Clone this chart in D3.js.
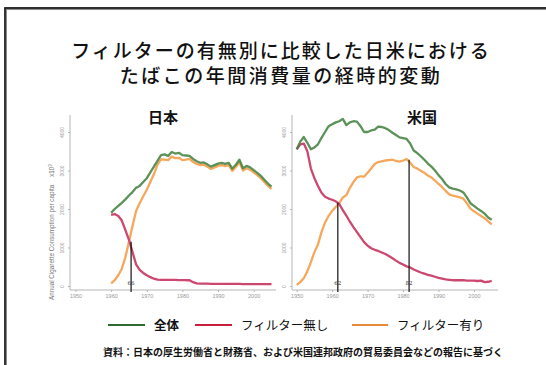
<!DOCTYPE html>
<meta charset="utf-8">
<title>filter cigarettes</title>
<body>
<script src="https://cdn.jsdelivr.net/npm/d3@7"></script>
<style>
html, body {
    margin: 0;
    background: #fff;
}
svg {
    display: block;
    font-family: "Noto Sans CJK JP", "Noto Sans", sans-serif;
}
</style>
<script>
// values (sticks per capita)
var jpYears = d3.range(1960, 2006),
    usYears = d3.range(1950, 2006);

var jpTotal = [1900, 2000, 2080, 2160, 2250, 2350, 2440, 2550, 2600, 2700,
    2800, 2950, 3100, 3250, 3400, 3420, 3380, 3480, 3440, 3460,
    3400, 3390, 3380, 3300, 3240, 3200, 3210, 3160, 3100, 3140,
    3180, 3200, 3170, 3200, 3050, 3150, 3280, 3060, 3120, 3080,
    3010, 2940, 2860, 2760, 2660, 2580];
var jpNoFilter = [1850, 1870, 1820, 1700, 1450, 1200, 880, 560, 420, 340,
    280, 230, 190, 165, 160, 160, 160, 160, 160, 155,
    155, 150, 150, 100, 70, 60, 60, 60, 55, 55,
    55, 55, 55, 55, 55, 55, 55, 50, 50, 50,
    50, 50, 50, 50, 50, 50];
var jpFilter = [70, 150, 280, 450, 750, 1150, 1560, 1950, 2150, 2330,
    2500, 2700, 2900, 3150, 3290, 3280, 3270, 3360, 3320, 3330,
    3270, 3280, 3300, 3220, 3170, 3140, 3150, 3100, 3040, 3080,
    3120, 3140, 3110, 3140, 2990, 3090, 3220, 3000, 3060, 3020,
    2950, 2880, 2800, 2700, 2600, 2520];

var usTotal = [3550, 3750, 3870, 3720, 3550, 3600, 3680, 3850, 4000, 4150,
    4200, 4250, 4280, 4340, 4180, 4250, 4280, 4270, 4150, 4000,
    4000, 4040, 4060, 4140, 4130, 4100, 4050, 3980, 3920, 3860,
    3840, 3820, 3700, 3520, 3450, 3370, 3280, 3180, 3100, 3000,
    2880, 2780, 2650, 2560, 2530, 2510, 2480, 2430, 2300, 2150,
    2080, 2010, 1950, 1880, 1780, 1720];
var usNoFilter = [3550, 3680, 3700, 3500, 3050, 2800, 2600, 2420, 2320, 2270,
    2240, 2200, 2130, 1970, 1830, 1670, 1530, 1400, 1270, 1140,
    1050, 980, 940, 910, 870, 830, 780, 720, 660, 600,
    560, 510, 480, 430, 390, 350, 320, 290, 270, 240,
    210, 190, 170, 160, 150, 150, 150, 150, 140, 140,
    140, 130, 140, 100, 110, 130];
var usFilter = [30, 100, 200, 380, 620, 880, 1080, 1400, 1650, 1820,
    1950, 2050, 2150, 2300, 2360, 2550, 2700, 2820, 2850, 2840,
    2940, 3050, 3170, 3220, 3240, 3260, 3270, 3280, 3250, 3230,
    3260, 3300, 3200, 3090, 3050, 2990, 2940, 2870, 2820, 2740,
    2650, 2570, 2470, 2380, 2350, 2330, 2300, 2270, 2150, 2010,
    1940, 1880, 1820, 1760, 1680, 1600];

var xTicks = [1950, 1960, 1970, 1980, 1990, 2000],
    yTicks = [0, 1000, 2000, 3000, 4000];

var jpMarks = [{label: "66", year: 1965.6, value: 1150}],
    usMarks = [{label: "62", year: 1961.6, value: 2160},
               {label: "82", year: 1981.7, value: 3280}];

var seriesNames = ["全体", "フィルター無し", "フィルター有り"],
    titleLines = ["フィルターの有無別に比較した日米における", "たばこの年間消費量の経時的変動"],
    source = "資料：日本の厚生労働省と財務省、および米国連邦政府の貿易委員会などの報告に基づく";

var colors = {total: "#3f7f3d", none: "#cc4870", filter: "#f5a85c"},
    legendColors = ["#2f6b30", "#c81e3e", "#e98a36"];

var width = 546, height = 365;

var svg = d3.select("body").append("svg")
    .attr("width", width)
    .attr("height", height);

// frame
svg.append("path")
    .attr("d", "M5.5," + height + "V8.5H" + width)
    .attr("fill", "none")
    .attr("stroke", "#8a8a8a")
    .attr("stroke-width", 3);
svg.append("path")
    .attr("d", "M5," + height + "V8H" + width)
    .attr("fill", "none")
    .attr("stroke", "#111")
    .attr("stroke-width", 1.4);

svg.selectAll("text.title")
    .data(titleLines)
    .enter().append("text")
    .attr("class", "title")
    .attr("x", 281)
    .attr("y", function(d, i) { return 58 + i * 25; })
    .attr("text-anchor", "middle")
    .attr("font-size", 19)
    .attr("font-weight", 500)
    .attr("letter-spacing", function(d, i) { return i === 0 ? 2 : 2.5; })
    .attr("fill", "#111")
    .text(function(d) { return d; });

var y = d3.scaleLinear().domain([0, 4000]).range([286, 132]);

function panel(opts) {
    var g = svg.append("g");
    var x = d3.scaleLinear().domain([1950, 2005]).range(opts.xr);

    // axis lines
    g.append("path")
        .attr("d", "M" + opts.ax + ",115V290H" + opts.xEnd)
        .attr("fill", "none")
        .attr("stroke", "#b5b5b5")
        .attr("stroke-width", 1);

    var yAxis = g.append("g")
        .attr("transform", "translate(" + opts.ax + ",0)")
        .call(d3.axisLeft(y).tickValues(yTicks).tickFormat(d3.format("d")).tickSize(2));
    yAxis.select(".domain").remove();
    yAxis.selectAll("line").attr("stroke", "#b5b5b5");
    yAxis.selectAll("text")
        .attr("font-size", 5)
        .attr("fill", "#999")
        .attr("x", 0)
        .attr("y", 0)
        .attr("dy", 0)
        .attr("transform", "translate(-6,0) rotate(-90)")
        .attr("text-anchor", "middle");

    var xAxis = g.append("g")
        .attr("transform", "translate(0,290)")
        .call(d3.axisBottom(x).tickValues(xTicks).tickFormat(d3.format("d")).tickSize(2).tickPadding(2));
    xAxis.select(".domain").remove();
    xAxis.selectAll("line").attr("stroke", "#b5b5b5");
    xAxis.selectAll("text").attr("font-size", 5.5).attr("fill", "#999");

    var line = d3.line()
        .x(function(d) { return x(d[0]); })
        .y(function(d) { return y(d[1]); });

    function draw(vals, color, op) {
        g.append("path")
            .datum(opts.years.map(function(yr, i) { return [yr, vals[i]]; }))
            .attr("fill", "none")
            .attr("stroke", color)
            .attr("stroke-opacity", op)
            .attr("stroke-width", 2.3)
            .attr("stroke-linejoin", "round")
            .attr("d", line);
    }
    draw(opts.filter, colors.filter, 1);
    draw(opts.none, colors.none, 1);
    draw(opts.total, colors.total, 0.85);

    var m = g.selectAll("g.mark")
        .data(opts.marks)
        .enter().append("g")
        .attr("class", "mark");
    m.append("line")
        .attr("x1", function(d) { return x(d.year); })
        .attr("x2", function(d) { return x(d.year); })
        .attr("y1", function(d) { return y(d.value); })
        .attr("y2", 292)
        .attr("stroke", "#111")
        .attr("stroke-width", 1.2);
    m.append("text")
        .attr("x", function(d) { return x(d.year); })
        .attr("y", 285)
        .attr("text-anchor", "middle")
        .attr("font-size", 5.5)
        .attr("font-family", "DejaVu Serif, serif")
        .attr("fill", "#333")
        .text(function(d) { return d.label; });

    svg.append("text")
        .attr("x", opts.titleX)
        .attr("y", 123)
        .attr("text-anchor", "middle")
        .attr("font-size", 15)
        .attr("font-weight", "bold")
        .attr("fill", "#111")
        .text(opts.name);
}

panel({name: "日本", years: jpYears, total: jpTotal, none: jpNoFilter, filter: jpFilter,
    marks: jpMarks, xr: [75.5, 271.5], ax: 70, xEnd: 276, titleX: 163});
panel({name: "米国", years: usYears, total: usTotal, none: usNoFilter, filter: usFilter,
    marks: usMarks, xr: [296.7, 491.7], ax: 292, xEnd: 498, titleX: 422});

// y label (left panel only)
svg.append("text")
    .attr("transform", "translate(54,300) rotate(-90)")
    .attr("font-size", 6.3)
    .attr("font-family", "Liberation Sans, sans-serif")
    .attr("fill", "#777")
    .text("Annual Cigarette Consumption per capita")
    .append("tspan")
    .attr("dx", 8)
    .text("x10")
    .append("tspan")
    .attr("dy", -2)
    .attr("font-size", 4.5)
    .text("3");

// legend
var legendX = [108, 195, 352],
    legendW = [37, 37, 36];
var lg = svg.selectAll("g.legend")
    .data(seriesNames)
    .enter().append("g")
    .attr("class", "legend")
    .attr("transform", function(d, i) { return "translate(" + legendX[i] + ",325)"; });
lg.append("line")
    .attr("x2", function(d, i) { return legendW[i]; })
    .attr("stroke", function(d, i) { return legendColors[i]; })
    .attr("stroke-width", 2);
lg.append("text")
    .attr("x", function(d, i) { return legendW[i] + 9; })
    .attr("y", 4.5)
    .attr("font-size", 12.5)
    .attr("font-weight", function(d, i) { return i === 0 ? "bold" : "normal"; })
    .attr("fill", "#111")
    .text(function(d) { return d; });

svg.append("text")
    .attr("x", 303)
    .attr("y", 356)
    .attr("text-anchor", "middle")
    .attr("font-size", 10)
    .attr("font-weight", "bold")
    .attr("fill", "#111")
    .text(source);
</script>
